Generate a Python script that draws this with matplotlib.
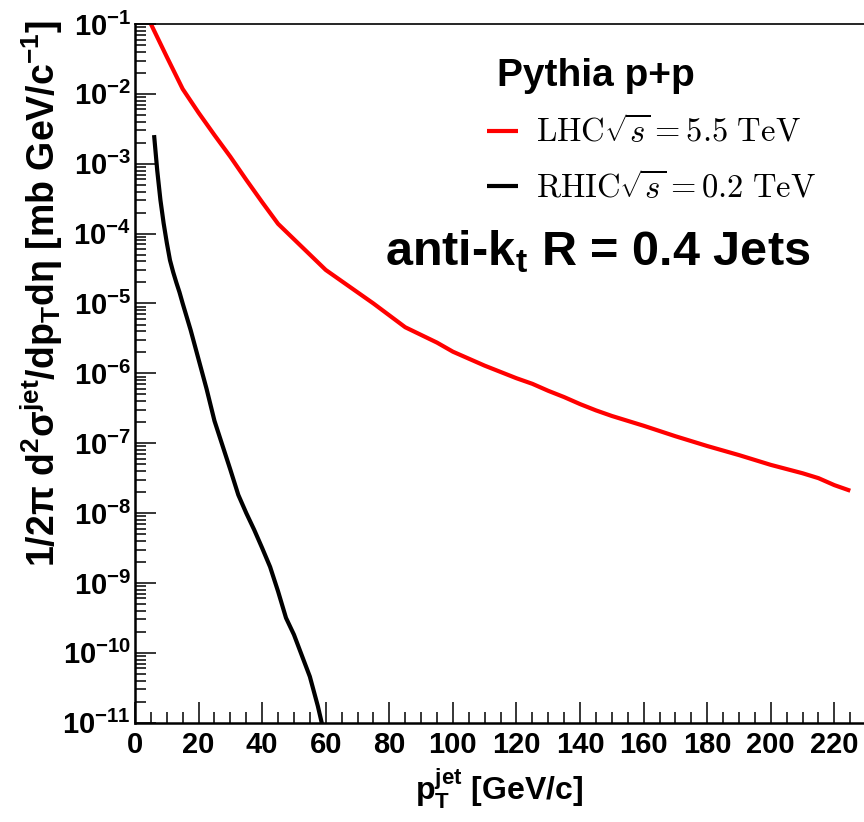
import numpy as np
import matplotlib
matplotlib.use("Agg")
import matplotlib.pyplot as plt
from matplotlib.ticker import LogLocator, MultipleLocator, FuncFormatter

# ============================================================
# DATA
# ============================================================

# LHC sqrt(s) = 5.5 TeV, log10 of the cross section
LHC_PT = [5, 10, 15, 20, 25, 30, 35, 40, 45, 50, 55, 60, 65, 70, 75, 80, 85,
          90, 95, 100, 105, 110, 115, 120, 125, 130, 135, 140, 145, 150,
          160, 170, 180, 190, 200, 210, 215, 220, 225]
LHC_LOG = [-1.00, -1.47, -1.93, -2.27, -2.59, -2.90, -3.23, -3.55, -3.86,
           -4.08, -4.30, -4.52, -4.68, -4.84, -5.00, -5.17, -5.34, -5.45,
           -5.56, -5.69, -5.79, -5.89, -5.98, -6.07, -6.15, -6.25, -6.34,
           -6.44, -6.53, -6.61, -6.75, -6.90, -7.04, -7.17, -7.31, -7.43,
           -7.50, -7.60, -7.68]

# RHIC sqrt(s) = 0.2 TeV
RHIC_PT = [6, 7, 8, 9, 10, 11, 12, 13, 14, 15, 17.5, 20, 22.5, 25, 27.5, 30,
           32.5, 35, 37.5, 40, 42.5, 45, 47.5, 50, 52.5, 55, 57.5, 59.5]
RHIC_LOG = [-2.59, -3.10, -3.52, -3.85, -4.13, -4.38, -4.55, -4.70, -4.84,
            -5.00, -5.38, -5.80, -6.22, -6.68, -7.03, -7.38, -7.74, -8.00,
            -8.24, -8.50, -8.77, -9.12, -9.50, -9.74, -10.04, -10.34,
            -10.76, -11.15]

LHC_LABEL = r"$\mathrm{LHC}\sqrt{\mathit{s}} = 5.5\ \mathrm{TeV}$"
RHIC_LABEL = r"$\mathrm{RHIC}\sqrt{\mathit{s}} = 0.2\ \mathrm{TeV}$"

# ============================================================
# STYLE
# ============================================================

plt.rcParams["font.family"] = ["Liberation Sans", "DejaVu Sans"]
plt.rcParams["font.weight"] = "bold"
plt.rcParams["mathtext.fontset"] = "custom"
plt.rcParams["mathtext.rm"] = "Liberation Sans:bold"
plt.rcParams["mathtext.bf"] = "Liberation Sans:bold"
plt.rcParams["mathtext.it"] = "Liberation Sans:bold:italic"
plt.rcParams["mathtext.default"] = "rm"

W, H = 864, 822
fig = plt.figure(figsize=(W / 100, H / 100), dpi=100)

x0, x1 = 135, 864
y_top, y_bot = 24, 722.7
ax = fig.add_axes([x0 / W, 1 - y_bot / H, (x1 - x0) / W, (y_bot - y_top) / H])

ax.plot(LHC_PT, 10 ** np.array(LHC_LOG), color="#ff0000", lw=3.0,
        label=LHC_LABEL, solid_capstyle="butt")
ax.plot(RHIC_PT, 10 ** np.array(RHIC_LOG), color="black", lw=3.0,
        label=RHIC_LABEL, solid_capstyle="butt")

ax.set_yscale("log")
ax.set_xlim(0, (x1 - x0) / 3.179)
ax.set_ylim(1e-11, 1e-1)

ax.xaxis.set_major_locator(MultipleLocator(20))
ax.xaxis.set_minor_locator(MultipleLocator(5))
ax.yaxis.set_major_locator(LogLocator(base=10, numticks=20))
ax.yaxis.set_minor_locator(LogLocator(base=10, subs=np.arange(2, 10), numticks=200))
ax.yaxis.set_major_formatter(
    FuncFormatter(lambda v, p: r"$10^{%d}$" % int(round(np.log10(v)))))

ax.tick_params(which="both", direction="in", top=False, right=False)
ax.tick_params(which="major", length=15, width=1.1, labelsize=21)
ax.tick_params(which="minor", length=8, width=1.1)
ax.tick_params(axis="x", pad=6)
ax.tick_params(axis="y", pad=3)

ax.spines["right"].set_visible(False)
for side in ["left", "bottom"]:
    ax.spines[side].set_linewidth(1.8)
ax.spines["top"].set_linewidth(1.2)

# ============================================================
# LABELS AND TEXT
# ============================================================

fig.text(42 / W, 1 - 20 / H,
         r"1/2π d$^{2}$σ$^{jet}$/dp$_{T}$dη [mb GeV/c$^{-1}$]",
         rotation=90, ha="center", va="top", fontsize=27, fontweight="bold")
fig.text(499 / W, 1 - 800 / H, r"$p_{T}^{jet}$ [GeV/c]",
         ha="center", va="baseline", fontsize=23, fontweight="bold")

fig.text(497 / W, 1 - 86 / H, "Pythia p+p", ha="left", va="baseline",
         fontsize=28, fontweight="bold")
fig.text(385 / W, 1 - 265 / H, r"anti-k$_{t}$ R = 0.4 Jets", ha="left",
         va="baseline", fontsize=35, fontweight="bold")

leg = ax.legend(loc="upper left", bbox_to_anchor=(487 / W, 1 - 116 / H),
                bbox_transform=fig.transFigure, frameon=False, fontsize=23.5,
                handlelength=0.95, handletextpad=0.55, labelspacing=0.7,
                borderpad=0, borderaxespad=0)
for t in leg.get_texts():
    t.set_math_fontfamily("cm")

fig.savefig("out.png", dpi=100)
